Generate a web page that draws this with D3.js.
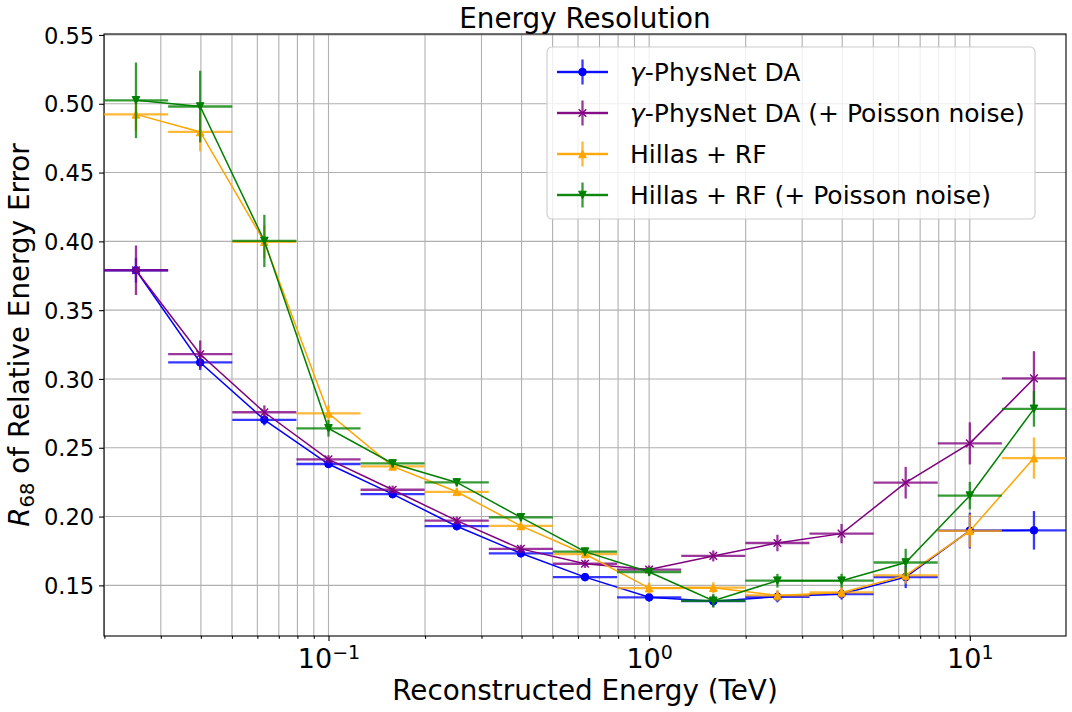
<!DOCTYPE html>
<html>
<head>
<meta charset="utf-8">
<script src="https://cdn.jsdelivr.net/npm/d3@7"></script>
<style>
  body { margin: 0; background: #fff; }
  svg { font-family: 'DejaVu Sans', sans-serif; }
</style>
</head>
<body>
<svg id="chart" width="1072" height="712"></svg>
<script>
// bin centres and edges (TeV)
const energy = [0.0251, 0.0398, 0.0631, 0.1, 0.1585, 0.2512, 0.3981, 0.631, 1.0, 1.585, 2.512, 3.981, 6.31, 10.0, 15.85];
const binEdges = [0.01995, 0.03162, 0.05012, 0.07943, 0.1259, 0.1995, 0.3162, 0.5012, 0.7943, 1.259, 1.995, 3.162, 5.012, 7.943, 12.59, 19.95];

const physnet = [0.379, 0.312, 0.2703, 0.2382, 0.2163, 0.193, 0.1733, 0.156, 0.1413, 0.1385, 0.1417, 0.1437, 0.156, 0.1898, 0.190];
const physnetErr = [0.009, 0.0055, 0.004, 0.003, 0.003, 0.003, 0.003, 0.003, 0.003, 0.004, 0.004, 0.004, 0.008, 0.013, 0.014];

const physnetNoise = [0.379, 0.318, 0.2758, 0.2416, 0.2195, 0.197, 0.1765, 0.1657, 0.1615, 0.1714, 0.1808, 0.1876, 0.2246, 0.2532, 0.3004];
const physnetNoiseErr = [0.018, 0.010, 0.005, 0.003, 0.003, 0.003, 0.003, 0.003, 0.003, 0.004, 0.006, 0.007, 0.0115, 0.0153, 0.0198];

const hillas = [0.4923, 0.4795, 0.3997, 0.2750, 0.2365, 0.218, 0.1932, 0.1728, 0.1480, 0.1483, 0.1427, 0.1449, 0.1572, 0.1896, 0.2425];
const hillasErr = [0.012, 0.014, 0.012, 0.006, 0.003, 0.003, 0.003, 0.003, 0.004, 0.004, 0.004, 0.004, 0.006, 0.012, 0.015];

const hillasNoise = [0.5025, 0.498, 0.4003, 0.2641, 0.2386, 0.2248, 0.1994, 0.1745, 0.1597, 0.1388, 0.1534, 0.1534, 0.1666, 0.2152, 0.2783];
const hillasNoiseErr = [0.0275, 0.026, 0.019, 0.006, 0.003, 0.003, 0.003, 0.003, 0.003, 0.005, 0.005, 0.005, 0.010, 0.010, 0.013];

const seriesNames = [
  ['γ', '-PhysNet DA'],
  ['γ', '-PhysNet DA (+ Poisson noise)'],
  ['', 'Hillas + RF'],
  ['', 'Hillas + RF (+ Poisson noise)'],
];
const seriesColors = ['#0000ff', '#800080', '#ffa500', '#008000'];
const seriesMarkers = ['o', 'x', '^', 'v'];

const series = [
  { values: physnet, errs: physnetErr },
  { values: physnetNoise, errs: physnetNoiseErr },
  { values: hillas, errs: hillasErr },
  { values: hillasNoise, errs: hillasNoiseErr },
].map((s, i) => ({
  ...s, name: seriesNames[i], color: seriesColors[i], marker: seriesMarkers[i],
}));

const dim = { l: 104, r: 1066, t: 34, b: 636 };

const svg = d3.select('#chart');

const scaleX = d3.scaleLog().domain([binEdges[0], binEdges[binEdges.length - 1]]).range([dim.l, dim.r]);
const scaleY = d3.scaleLinear().domain([0.1132, 0.5507]).range([dim.b, dim.t]);

const allTicks = scaleX.ticks();
const majorTicks = allTicks.filter((t) => Math.abs(Math.log10(t) - Math.round(Math.log10(t))) < 1e-9);
const minorTicks = allTicks.filter((t) => !majorTicks.includes(t));
const yTicks = scaleY.ticks(10);

// grid
const grid = svg.append('g').attr('class', 'grid');
grid.selectAll('.gx').data(allTicks).enter().append('line')
  .attr('x1', (d) => scaleX(d)).attr('x2', (d) => scaleX(d))
  .attr('y1', dim.t).attr('y2', dim.b)
  .style('stroke', '#b0b0b0').style('stroke-width', 1.1);
grid.selectAll('.gy').data(yTicks).enter().append('line')
  .attr('x1', dim.l).attr('x2', dim.r)
  .attr('y1', (d) => scaleY(d)).attr('y2', (d) => scaleY(d))
  .style('stroke', '#b0b0b0').style('stroke-width', 1.1);

// axes
const xMinorAxis = svg.append('g')
  .attr('transform', `translate(0,${dim.b})`)
  .call(d3.axisBottom(scaleX).tickValues(minorTicks).tickSize(2.8).tickFormat(''));
const xMajorAxis = svg.append('g')
  .attr('transform', `translate(0,${dim.b})`)
  .call(d3.axisBottom(scaleX).tickValues(majorTicks).tickSize(4.9).tickFormat(''));
const yAxis = svg.append('g')
  .attr('transform', `translate(${dim.l},0)`)
  .call(d3.axisLeft(scaleY).tickValues(yTicks).tickSize(4.9).tickPadding(4.9).tickFormat(d3.format('.2f')));

svg.selectAll('.domain').remove();
[xMinorAxis, xMajorAxis, yAxis].forEach((a) => {
  a.attr('font-family', null).attr('font-size', null);
  a.selectAll('line').style('stroke', '#000').style('stroke-width', 1.1);
});

yAxis.selectAll('text')
  .style('font-size', '22.6px')
  .style('fill', '#000')
  .attr('dy', '0.36em');

// 10^n labels
xMajorAxis.selectAll('.tick').append('text')
  .attr('text-anchor', 'middle')
  .style('font-size', '27px')
  .style('fill', '#000')
  .each(function (d) {
    const t = d3.select(this);
    t.append('tspan').text('10');
    t.append('tspan').attr('dy', -9.5).style('font-size', '19px').text(String(Math.round(Math.log10(d))).replace('-', '\u2212'));
  })
  .attr('y', 668 - dim.b);

// frame
svg.append('rect')
  .attr('x', dim.l).attr('y', dim.t)
  .attr('width', dim.r - dim.l).attr('height', dim.b - dim.t)
  .style('fill', 'none').style('stroke', '#000').style('stroke-width', 1.1);

// markers
const drawMarker = (sel, marker, color, r) => {
  if (marker === 'o') {
    sel.append('circle').attr('r', r).style('fill', color).style('stroke', color).style('stroke-width', 1);
  } else if (marker === 'x') {
    sel.append('path').attr('d', `M${-r},${-r}L${r},${r}M${-r},${r}L${r},${-r}`)
      .style('stroke', color).style('stroke-width', 1.4).style('fill', 'none');
  } else {
    const s = marker === '^' ? 1 : -1;
    sel.append('path').attr('d', `M0,${-r * s}L${-r},${r * s}L${r},${r * s}Z`)
      .style('fill', color).style('stroke', color).style('stroke-width', 1).style('stroke-linejoin', 'miter');
  }
};

const lineGenerator = d3.line()
  .x((d) => scaleX(d.x))
  .y((d) => scaleY(d.y));

series.forEach((s) => {
  const pts = energy.map((e, i) => ({
    x: e, y: s.values[i], err: s.errs[i], lo: binEdges[i], hi: binEdges[i + 1],
  }));
  const g = svg.append('g').attr('class', 'series');

  const bars = g.append('g').style('stroke', s.color).style('stroke-width', 2.3).style('opacity', 0.78);
  bars.selectAll('.xerr').data(pts).enter().append('line')
    .attr('x1', (d) => scaleX(d.lo)).attr('x2', (d) => scaleX(d.hi))
    .attr('y1', (d) => scaleY(d.y)).attr('y2', (d) => scaleY(d.y));
  bars.selectAll('.yerr').data(pts).enter().append('line')
    .attr('x1', (d) => scaleX(d.x)).attr('x2', (d) => scaleX(d.x))
    .attr('y1', (d) => scaleY(d.y - d.err)).attr('y2', (d) => scaleY(d.y + d.err));

  g.append('path')
    .attr('d', lineGenerator(pts))
    .style('fill', 'none').style('stroke', s.color).style('stroke-width', 1.5);

  g.selectAll('.pt').data(pts).enter().append('g')
    .attr('transform', (d) => `translate(${scaleX(d.x)},${scaleY(d.y)})`)
    .each(function () { drawMarker(d3.select(this), s.marker, s.color, 3.8); });
});

// legend
const legend = svg.append('g').attr('class', 'legend');
legend.append('rect')
  .attr('x', 547).attr('y', 47).attr('width', 488).attr('height', 172).attr('rx', 5)
  .style('fill', 'rgba(255,255,255,0.8)').style('stroke', '#cccccc').style('stroke-width', 1.1);

series.forEach((s, i) => {
  const cy = 72 + i * 41;
  const row = legend.append('g').attr('transform', `translate(0,${cy})`);
  const bars = row.append('g').style('stroke', s.color).style('stroke-width', 2.3).style('opacity', 0.78);
  bars.append('line').attr('x1', 557).attr('x2', 608).attr('y1', 0).attr('y2', 0);
  bars.append('line').attr('x1', 582.5).attr('x2', 582.5).attr('y1', -12.5).attr('y2', 12.5);
  row.append('line').attr('x1', 557).attr('x2', 608).attr('y1', 0).attr('y2', 0)
    .style('stroke', s.color).style('stroke-width', 1.5);
  drawMarker(row.append('g').attr('transform', 'translate(582.5,0)'), s.marker, s.color, 3.8);
  const txt = row.append('text').attr('x', 630).attr('y', 9).style('font-size', '25px').style('fill', '#000');
  if (s.name[0]) txt.append('tspan').style('font-style', 'italic').text(s.name[0]);
  txt.append('tspan').text(s.name[1]);
});

// titles
svg.append('text')
  .attr('x', (dim.l + dim.r) / 2).attr('y', 28)
  .attr('text-anchor', 'middle')
  .style('font-size', '27.8px')
  .text('Energy Resolution');

svg.append('text')
  .attr('x', (dim.l + dim.r) / 2).attr('y', 700)
  .attr('text-anchor', 'middle')
  .style('font-size', '27.8px')
  .text('Reconstructed Energy (TeV)');

const yLabel = svg.append('text')
  .attr('transform', `translate(29,${(dim.t + dim.b) / 2}) rotate(-90)`)
  .attr('text-anchor', 'middle')
  .style('font-size', '27.8px');
yLabel.append('tspan').style('font-style', 'italic').text('R');
yLabel.append('tspan').attr('dy', 5).style('font-size', '19.5px').text('68');
yLabel.append('tspan').attr('dy', -5).text(' of Relative Energy Error');
</script>
</body>
</html>
